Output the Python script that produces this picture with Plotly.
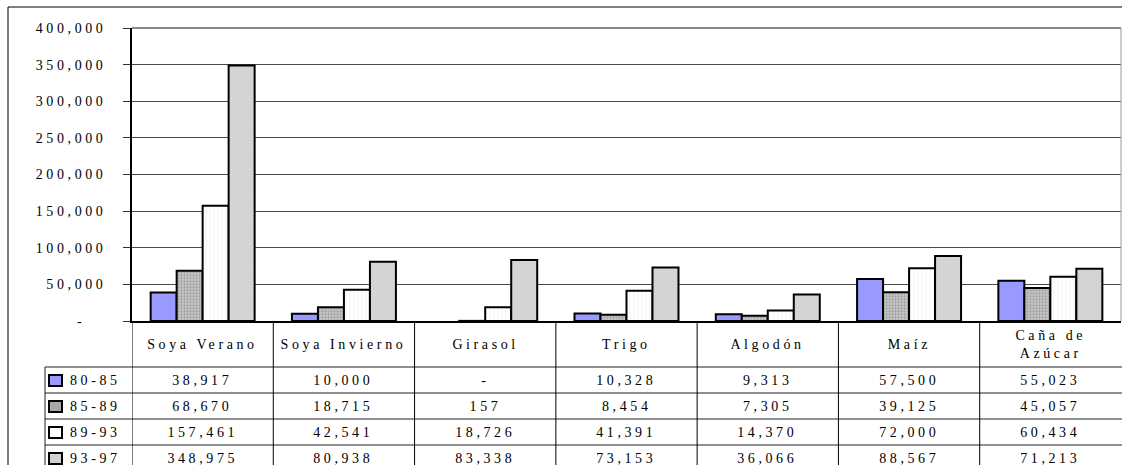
import plotly.graph_objects as go

# Crops and periods
cultivos = ["Soya Verano", "Soya Invierno", "Girasol", "Trigo", "Algodón", "Maíz", "Caña de Azúcar"]
encabezados = ["Soya Verano", "Soya Invierno", "Girasol", "Trigo", "Algodón", "Maíz", "Caña de<br>Azúcar"]
periodos = ["80-85", "85-89", "89-93", "93-97"]

# Values per period (None = no production)
p80_85 = [38917, 10000, None, 10328, 9313, 57500, 55023]
p85_89 = [68670, 18715, 157, 8454, 7305, 39125, 45057]
p89_93 = [157461, 42541, 18726, 41391, 14370, 72000, 60434]
p93_97 = [348975, 80938, 83338, 73153, 36066, 88567, 71213]
series = [p80_85, p85_89, p89_93, p93_97]

# Y axis ticks
y_ticks = [0, 50000, 100000, 150000, 200000, 250000, 300000, 350000, 400000]
y_ticktext = ["-\u00a0\u00a0\u00a0"] + [f"{v:,}" for v in y_ticks[1:]]

# Styles per period
fills = ["#9999ff", "#c4c4c4", "#ffffff", "#d6d6d6"]
patterns = [
    dict(shape=""),
    dict(shape=".", bgcolor="#c8c8c8", fgcolor="#7a7a7a", size=3, solidity=0.45),
    dict(shape="|", bgcolor="#ffffff", fgcolor="#e6e6e6", size=4, solidity=0.25),
    dict(shape=".", bgcolor="#d6d6d6", fgcolor="#cacaca", size=3, solidity=0.3),
]
swatch_fill = ["#9999ff", "#a8a8a8", "#ffffff", "#d2d2d2"]

W, H = 1122, 465
L, R, T, B = 132, 1, 28, 144
PW, PH = W - L - R, H - T - B

def px(x):
    return (x - L) / PW

def py(y):
    return 1 - (y - T) / PH

FONT = "Liberation Serif, Times New Roman, serif"
TXT = "#000000"

fig = go.Figure()
for name, vals, col, pat in zip(periodos, series, fills, patterns):
    fig.add_trace(go.Bar(
        x=list(range(len(cultivos))), y=vals, name=name,
        marker=dict(color=col, line=dict(color="#000000", width=2), pattern=pat),
        hoverinfo="skip", showlegend=False,
    ))

shapes = []
annotations = []

# Outer chart frame
shapes.append(dict(type="line", xref="paper", yref="paper", x0=px(8), x1=px(1130),
                   y0=py(7), y1=py(7), line=dict(color="#000000", width=1)))
shapes.append(dict(type="line", xref="paper", yref="paper", x0=px(8), x1=px(8),
                   y0=py(7), y1=py(470), line=dict(color="#000000", width=1)))

# Plot area frame (top and right)
shapes.append(dict(type="line", xref="paper", yref="paper", x0=0, x1=1, y0=1, y1=1,
                   line=dict(color="#8a8a8a", width=2)))
shapes.append(dict(type="line", xref="paper", yref="paper", x0=1, x1=1, y0=0, y1=1,
                   line=dict(color="#9a9a9a", width=1)))

# Data table grid
row_tops = [367, 393, 419, 445]
for yt in row_tops:
    shapes.append(dict(type="line", xref="paper", yref="paper", x0=px(45), x1=px(1130),
                       y0=py(yt), y1=py(yt), line=dict(color="#222222", width=1)))
shapes.append(dict(type="line", xref="paper", yref="paper", x0=px(45), x1=px(45),
                   y0=py(367), y1=py(470), line=dict(color="#222222", width=1)))
for i in range(len(cultivos)):
    shapes.append(dict(type="line", xref="x", yref="paper", x0=i - 0.5, x1=i - 0.5,
                       y0=0, y1=py(470), line=dict(color="#000000", width=1)))

# Column headers
for i, h in enumerate(encabezados):
    annotations.append(dict(x=i, y=py(344), xref="x", yref="paper", text=h,
                            showarrow=False, xanchor="center", yanchor="middle",
                            font=dict(family=FONT, size=14, color=TXT)))

# Table rows: legend key + values
row_centers = [380, 406, 432, 458]
for r, (name, vals) in enumerate(zip(periodos, series)):
    yc = row_centers[r]
    shapes.append(dict(type="rect", xref="paper", yref="paper",
                       x0=px(49), x1=px(62), y0=py(yc - 5), y1=py(yc + 6),
                       fillcolor=swatch_fill[r], line=dict(color="#000000", width=2)))
    annotations.append(dict(x=px(68), y=py(yc), xref="paper", yref="paper", text=name,
                            showarrow=False, xanchor="left", yanchor="middle", align="left",
                            font=dict(family=FONT, size=14, color=TXT)))
    for i, v in enumerate(vals):
        txt = "-" if v is None else f"{v:,}"
        annotations.append(dict(x=i, y=py(yc), xref="x", yref="paper", text=txt,
                                showarrow=False, xanchor="center", yanchor="middle",
                                font=dict(family=FONT, size=14, color=TXT)))

fig.update_layout(
    width=W, height=H,
    margin=dict(l=L, r=R, t=T, b=B, pad=0),
    paper_bgcolor="#ffffff", plot_bgcolor="#ffffff",
    barmode="group", bargap=0.264, bargroupgap=0,
    shapes=shapes, annotations=annotations,
    font=dict(family=FONT, size=14, color=TXT),
    xaxis=dict(range=[-0.5, 6.5], showticklabels=False, showgrid=False, zeroline=False,
               showline=True, linecolor="#000000", linewidth=1.5, ticks="", fixedrange=True),
    yaxis=dict(range=[0, 400000], tickvals=y_ticks, ticktext=y_ticktext,
               showgrid=True, gridcolor="#4a4a4a", gridwidth=1, zeroline=False,
               showline=True, linecolor="#000000", linewidth=1.5,
               ticks="outside", ticklen=7, tickcolor="#333333", ticklabelstandoff=14,
               tickfont=dict(family=FONT, size=14, color=TXT), fixedrange=True),
)

spacing_css = ("var s=document.createElement('style');"
               "s.textContent='.main-svg text{letter-spacing:3.6px}';"
               "document.head.appendChild(s);")
fig.write_html("out.html", post_script=spacing_css)
